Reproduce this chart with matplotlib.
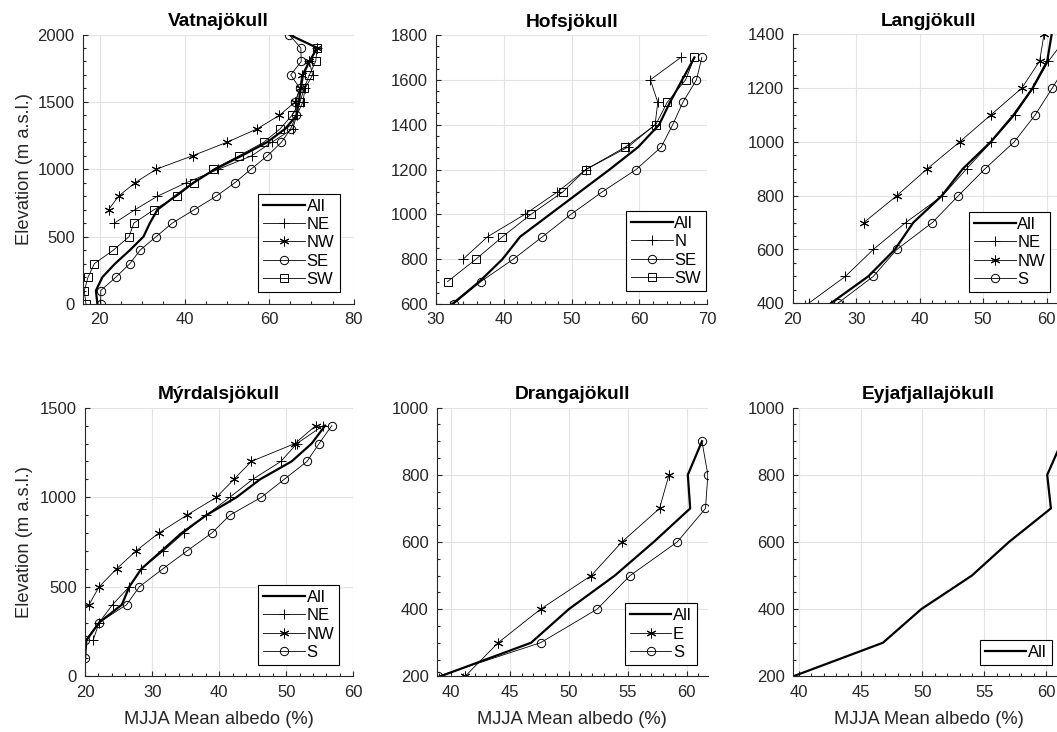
import matplotlib
matplotlib.use("Agg")
import matplotlib.pyplot as plt
from matplotlib.ticker import MultipleLocator

plt.rcParams['font.family'] = ['Liberation Sans', 'DejaVu Sans']

W, H = 1057, 732

# ---------------- data ----------------
# Vatnajökull
vat_all_elev = list(range(0, 2001, 100))
vat_all = [19.4, 19.05, 20.6, 23.6, 27.1, 30.3, 31.8, 33.6, 37.8, 42.1, 47.2,
           53.5, 59.5, 63.8, 66.5, 67.0, 67.5, 68.0, 69.5, 71.4, 64.7]
vat_ne_elev = list(range(600, 1901, 100))
vat_ne = [23.4, 28.3, 33.6, 40.4, 48.0, 55.9, 60.6, 65.6, 66.5, 68.0, 68.5, 70.3, 69.5, 71.3]
vat_nw_elev = list(range(700, 1901, 100))
vat_nw = [22.05, 24.4, 28.3, 33.3, 41.9, 50.0, 57.2, 62.4, 66.2, 67.3, 67.7, 69.5, 71.3]
vat_se_elev = list(range(0, 2001, 100))
vat_se = [20.2, 20.2, 23.8, 27.1, 29.5, 33.3, 37.1, 42.3, 47.5, 51.9, 55.7,
          59.6, 62.9, 65.1, 66.4, 66.2, 67.3, 65.1, 67.6, 67.5, 64.7]
vat_sw_elev = list(range(0, 1901, 100))
vat_sw = [16.7, 16.3, 17.2, 18.7, 23.2, 26.9, 28.0, 32.8, 38.2, 42.3, 46.8,
          52.9, 58.7, 62.6, 65.4, 67.3, 68.3, 69.5, 71.0, 71.4]

# Hofsjökull
hof_all_elev = list(range(600, 1701, 100))
hof_all = [32.4, 36.4, 39.8, 42.4, 46.8, 51.2, 55.6, 59.8, 62.9, 64.5, 66.3, 68.1]
hof_n_elev = list(range(800, 1701, 100))
hof_n = [34.0, 37.6, 43.1, 47.9, 52.1, 58.3, 62.3, 62.7, 61.6, 66.1]
hof_se_elev = list(range(600, 1701, 100))
hof_se = [32.6, 36.6, 41.4, 45.7, 49.9, 54.5, 59.5, 63.2, 64.9, 66.4, 68.4, 69.2]
hof_sw_elev = list(range(700, 1701, 100))
hof_sw = [31.7, 35.9, 39.8, 44.0, 48.7, 52.1, 57.9, 62.4, 64.1, 66.8, 68.1]

# Langjökull
lan_all_elev = list(range(400, 1401, 100))
lan_all = [26.0, 31.9, 36.1, 39.0, 43.5, 46.8, 51.2, 54.8, 57.8, 60.1, 60.8]
lan_ne_elev = list(range(400, 1401, 100))
lan_ne = [22.5, 28.3, 32.7, 37.8, 43.6, 47.4, 51.3, 55.0, 57.9, 60.3, 63.5]
lan_nw_elev = list(range(700, 1401, 100))
lan_nw = [31.2, 36.4, 41.2, 46.3, 51.2, 56.1, 58.9, 59.6]
lan_s_elev = list(range(400, 1401, 100))
lan_s = [27.1, 32.7, 36.4, 42.0, 46.1, 50.3, 54.9, 58.2, 60.9, 63.5, 65.0]

# Mýrdalsjökull
myr_all_elev = list(range(100, 1401, 100))
myr_all = [20.0, 20.2, 22.1, 25.5, 26.6, 28.4, 31.4, 34.4, 38.1, 42.6, 46.1, 50.8, 53.8, 55.8]
myr_ne_elev = list(range(200, 1401, 100))
myr_ne = [21.2, 22.1, 24.1, 26.6, 28.4, 31.7, 34.7, 38.1, 41.6, 45.0, 49.2, 51.6, 55.5]
myr_nw_elev = list(range(400, 1401, 100))
myr_nw = [20.6, 22.1, 24.7, 27.6, 31.0, 35.2, 39.6, 42.2, 44.8, 51.3, 54.4]
myr_s_elev = list(range(100, 1401, 100))
myr_s = [20.0, 20.0, 22.1, 26.2, 28.1, 31.6, 35.2, 38.9, 41.6, 46.3, 49.7, 53.1, 54.9, 56.8]

# Drangajökull
dra_all_elev = list(range(200, 901, 100))
dra_all = [39.1, 46.8, 50.0, 53.9, 57.2, 60.3, 60.1, 61.3]
dra_e_elev = list(range(200, 801, 100))
dra_e = [41.2, 44.0, 47.6, 51.9, 54.5, 57.7, 58.5]
dra_s_elev = list(range(200, 901, 100))
dra_s = [38.9, 47.6, 52.4, 55.2, 59.2, 61.6, 61.8, 61.3]

# Eyjafjallajökull
eyj_all_elev = list(range(200, 901, 100))
eyj_all = [39.54, 46.8, 49.9, 54.0, 57.0, 60.4, 60.1, 61.3]

titles = ['Vatnajökull', 'Hofsjökull', 'Langjökull',
          'Mýrdalsjökull', 'Drangajökull', 'Eyjafjallajökull']
xlabel = 'MJJA Mean albedo (%)'
ylabel = 'Elevation (m a.s.l.)'

# ---------------- styles ----------------
STY = {
    'All': dict(lw=1.6, marker=None),
    'NE': dict(lw=0.6, marker='+', ms=7.5),
    'N': dict(lw=0.6, marker='+', ms=7.5),
    'NW': dict(lw=0.6, marker=(6, 2, 0), ms=7),
    'E': dict(lw=0.6, marker=(6, 2, 0), ms=7),
    'SE': dict(lw=0.6, marker='o', ms=6),
    'S': dict(lw=0.6, marker='o', ms=6),
    'SW': dict(lw=0.6, marker='s', ms=5.5),
}

panels = [
    dict(box=(83, 353.7, 34.5, 304), xlim=(16, 80), ylim=(0, 2000),
         xmaj=20, xmin=5, ymaj=500, ymin=100,
         series=[('All', vat_all, vat_all_elev), ('NE', vat_ne, vat_ne_elev),
                 ('NW', vat_nw, vat_nw_elev), ('SE', vat_se, vat_se_elev),
                 ('SW', vat_sw, vat_sw_elev)],
         leg=(339.5, 292)),
    dict(box=(436, 707.3, 35, 304), xlim=(30, 70), ylim=(600, 1800),
         xmaj=10, xmin=2, ymaj=200, ymin=50,
         series=[('All', hof_all, hof_all_elev), ('N', hof_n, hof_n_elev),
                 ('SE', hof_se, hof_se_elev), ('SW', hof_sw, hof_sw_elev)],
         leg=(706, 291)),
    dict(box=(792.7, 1063.7, 34.3, 303.3), xlim=(20, 62.7), ylim=(400, 1400),
         xmaj=10, xmin=2, ymaj=200, ymin=50,
         series=[('All', lan_all, lan_all_elev), ('NE', lan_ne, lan_ne_elev),
                 ('NW', lan_nw, lan_nw_elev), ('S', lan_s, lan_s_elev)],
         leg=(1050, 292)),
    dict(box=(85, 353.3, 407.7, 676.3), xlim=(20, 60), ylim=(0, 1500),
         xmaj=10, xmin=2, ymaj=500, ymin=100,
         series=[('All', myr_all, myr_all_elev), ('NE', myr_ne, myr_ne_elev),
                 ('NW', myr_nw, myr_nw_elev), ('S', myr_s, myr_s_elev)],
         leg=(339.3, 665)),
    dict(box=(437, 707.5, 407.7, 676.3), xlim=(38.81, 61.77), ylim=(200, 1000),
         xmaj=5, xmin=1, ymaj=200, ymin=50,
         series=[('All', dra_all, dra_all_elev), ('E', dra_e, dra_e_elev),
                 ('S', dra_s, dra_s_elev)],
         leg=(696.7, 665)),
    dict(box=(793.3, 1064, 407.7, 676.3), xlim=(39.54, 61.46), ylim=(200, 1000),
         xmaj=5, xmin=1, ymaj=200, ymin=50,
         series=[('All', eyj_all, eyj_all_elev)],
         leg=(1051.7, 665)),
]

AXC = '#262626'
fig = plt.figure(figsize=(W / 100, H / 100), dpi=100)

for i, p in enumerate(panels):
    l, r, t, b = p['box']
    ax = fig.add_axes([l / W, 1 - b / H, (r - l) / W, (b - t) / H])
    for name, xs, ys in p['series']:
        s = STY[name]
        ax.plot(xs, ys, color='black', lw=s['lw'], marker=s['marker'],
                ms=s.get('ms', 0), mfc='none', mec='black', mew=0.7,
                label=name)
    ax.set_xlim(*p['xlim'])
    ax.set_ylim(*p['ylim'])
    ax.xaxis.set_major_locator(MultipleLocator(p['xmaj']))
    ax.xaxis.set_minor_locator(MultipleLocator(p['xmin']))
    ax.yaxis.set_major_locator(MultipleLocator(p['ymaj']))
    ax.yaxis.set_minor_locator(MultipleLocator(p['ymin']))
    ax.grid(True, which='major', color='#e3e3e3', lw=0.8)
    ax.set_axisbelow(True)
    for sp in ('top', 'right'):
        ax.spines[sp].set_visible(False)
    for sp in ('left', 'bottom'):
        ax.spines[sp].set_color(AXC)
        ax.spines[sp].set_linewidth(0.8)
    ax.tick_params(which='both', direction='in', color=AXC, labelcolor=AXC,
                   labelsize=12, width=0.8)
    ax.tick_params(which='major', length=3.5)
    ax.tick_params(which='minor', length=2.5)
    ax.tick_params(axis='x', pad=6)
    ax.tick_params(axis='y', pad=6)
    ax.set_title(titles[i], fontsize=13.8, fontweight='bold', color='black', pad=6)
    if i in (0, 3):
        ax.set_ylabel(ylabel, fontsize=13.2, color=AXC)
        ax.yaxis.set_label_coords((33 - l) / (r - l), 0.5)
    if i >= 3:
        ax.set_xlabel(xlabel, fontsize=13.2, color=AXC)
        ax.xaxis.set_label_coords(0.5, -(711 - b) / (b - t))
    lx, ly = p['leg']
    leg = ax.legend(loc='lower right', bbox_to_anchor=(lx / W, 1 - ly / H),
                    bbox_transform=fig.transFigure, borderaxespad=0,
                    fontsize=12, frameon=True, fancybox=False, framealpha=1,
                    edgecolor='black', handlelength=2.5, handletextpad=0.1,
                    labelspacing=0.2, borderpad=0.3)
    leg.get_frame().set_linewidth(0.8)

fig.savefig('out.png', dpi=100)
